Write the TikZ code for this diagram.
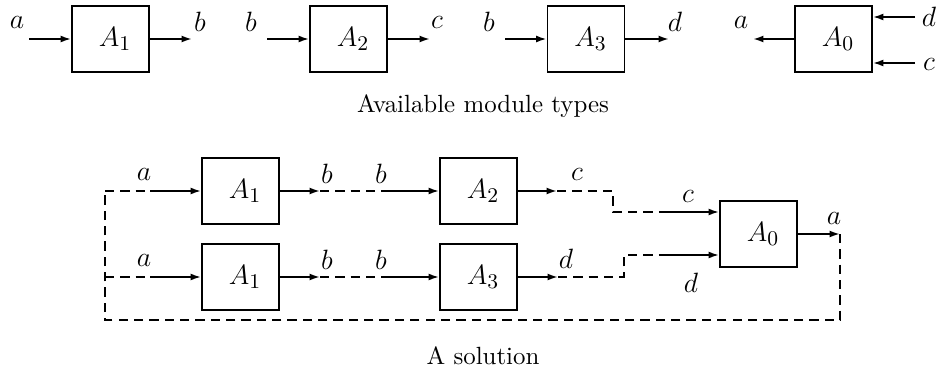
\documentclass[tikz,border=0pt]{standalone}
\usetikzlibrary{arrows.meta,calc}
\begin{document}
\begin{tikzpicture}[x=0.43pt,y=-0.43pt,
  every node/.style={font=\fontsize{13}{15}\selectfont},
  modbox/.style={draw,line width=0.8pt,minimum width=33.1pt,minimum height=28.4pt,inner sep=0pt},
  lbl/.style={inner sep=0pt},
  captxt/.style={font=\fontsize{10.7}{13}\selectfont},
  arr/.style={line width=0.8pt,-{Latex[length=4.5pt,width=3pt]}},
  dsh/.style={line width=0.8pt,dash pattern=on 4pt off 2.6pt}]
\useasboundingbox (0,0) rectangle (944,372);
% ---------- top row ----------
\node[modbox] (t1) at (110.5,39) {\hspace{4pt}$A_1$};
\node[modbox] (t2) at (348.5,39) {\hspace{4pt}$A_2$};
\node[modbox] (t3) at (586,39) {\hspace{4pt}$A_3$};
\node[modbox] (t0) at (833.5,39) {\hspace{4pt}$A_0$};
\coordinate (t1i) at (29,39);  \coordinate (t1o) at (192,39);
\coordinate (t2i) at (267,39); \coordinate (t2o) at (430,39);
\coordinate (t3i) at (505,39); \coordinate (t3o) at (669,39);
\coordinate (t0o) at (753,39);
\coordinate (t0d) at (915,17); \coordinate (t0c) at (915,63);
\draw[arr] (t1i) -- (t1.west);
\draw[arr] (t1.east) -- (t1o);
\draw[arr] (t2i) -- (t2.west);
\draw[arr] (t2.east) -- (t2o);
\draw[arr] (t3i) -- (t3.west);
\draw[arr] (t3.east) -- (t3o);
\draw[arr] (t0.west) -- (t0o);
\draw[arr] (t0d) -- (t0d -| t0.east);
\draw[arr] (t0c) -- (t0c -| t0.east);
\node[lbl] (la1) at (17,22) {$a$};
\node[lbl] (lb1) at (200,22) {$b$};
\node[lbl] (lb2) at (251,22) {$b$};
\node[lbl] (lc2) at (437,22) {$c$};
\node[lbl] (lb3) at (489,22) {$b$};
\node[lbl] (ld3) at (675,22) {$d$};
\node[lbl] (la0) at (741,22) {$a$};
\node[lbl] (ld0) at (929,17) {$d$};
\node[lbl] (lc0) at (929,64) {$c$};
\node[captxt] (cap1) at (483,106) {Available module types};
% ---------- bottom ----------
\node[modbox] (b1) at (240.5,191) {\hspace{4pt}$A_1$};
\node[modbox] (b2) at (478.5,191) {\hspace{4pt}$A_2$};
\node[modbox] (c1) at (240.5,277) {\hspace{4pt}$A_1$};
\node[modbox] (c3) at (478.5,277) {\hspace{4pt}$A_3$};
\node[modbox] (d0) at (758.5,234) {\hspace{4pt}$A_0$};
\coordinate (L1) at (105,191); \coordinate (p1) at (150,191);
\coordinate (q1) at (320,191); \coordinate (r1) at (385,191);
\coordinate (s1) at (557,191); \coordinate (k1) at (613,191);
\coordinate (k1b) at (613,212); \coordinate (u1) at (668,212);
\coordinate (L2) at (105,277); \coordinate (p2) at (150,277);
\coordinate (q2) at (320,277); \coordinate (r2) at (385,277);
\coordinate (s2) at (558,277); \coordinate (k2) at (624,277);
\coordinate (k2b) at (624,255); \coordinate (u2) at (668,255);
\coordinate (o) at (840,234); \coordinate (ob) at (840,320);
\coordinate (Lb) at (105,320);
% upper chain
\draw[dsh] (L1) -- (p1);
\draw[arr] (p1) -- (b1.west);
\draw[arr] (b1.east) -- (q1);
\draw[dsh] (q1) -- (r1);
\draw[arr] (r1) -- (b2.west);
\draw[arr] (b2.east) -- (s1);
\draw[dsh] (s1) -- (k1) -- (k1b) -- (u1);
\draw[arr] (u1) -- (u1 -| d0.west);
% lower chain
\draw[dsh] (L2) -- (p2);
\draw[arr] (p2) -- (c1.west);
\draw[arr] (c1.east) -- (q2);
\draw[dsh] (q2) -- (r2);
\draw[arr] (r2) -- (c3.west);
\draw[arr] (c3.east) -- (s2);
\draw[dsh] (s2) -- (k2) -- (k2b) -- (u2);
\draw[arr] (u2) -- (u2 -| d0.west);
% feedback
\draw[arr] (d0.east) -- (o);
\draw[dsh] (o) -- (ob) -- (Lb) -- (L1);
% labels
\node[lbl] (ba1) at (144,174) {$a$};
\node[lbl] (ba2) at (144,260) {$a$};
\node[lbl] (bb1) at (327,174) {$b$};
\node[lbl] (bb2) at (381,174) {$b$};
\node[lbl] (bb3) at (327,260) {$b$};
\node[lbl] (bb4) at (381,260) {$b$};
\node[lbl] (bc1) at (577,174) {$c$};
\node[lbl] (bc2) at (688,196) {$c$};
\node[lbl] (bd1) at (566,259) {$d$};
\node[lbl] (bd2) at (691,283) {$d$};
\node[lbl] (ba0) at (834,218) {$a$};
\node[captxt] (cap2) at (483,356) {A solution};
\end{tikzpicture}
\end{document}
